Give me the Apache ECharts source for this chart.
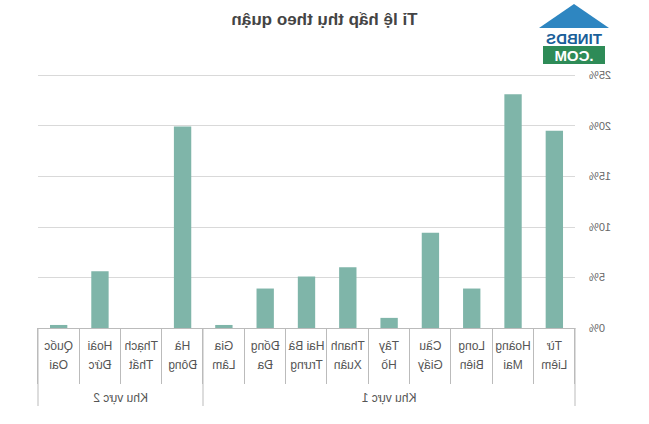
<!DOCTYPE html>
<html><head><meta charset="utf-8">
<script src="https://cdn.jsdelivr.net/npm/echarts@6/dist/echarts.min.js"></script>
<style>html,body{margin:0;padding:0;background:#fff}#c{width:649px;height:424px;transform:scaleX(-1)}</style>
</head><body><div id="c"></div>
<script>
const categories=["Từ\nLiêm","Hoàng\nMai","Long\nBiên","Cầu\nGiấy","Tây\nHồ","Thanh\nXuân","Hai Bà\nTrưng","Đống\nĐa","Gia\nLâm","Hà\nĐông","Thạch\nThất","Hoài\nĐức","Quốc\nOai"];
const values=[19.5,23.1,3.9,9.4,1.0,6.0,5.1,3.9,0.3,19.9,0,5.6,0.3];
const groups=["Khu vực 1","Khu vực 2"];
const groupSizes=[9,4];
const yTicks=[0,5,10,15,20,25];
const chart=echarts.init(document.getElementById('c'),null,{renderer:'svg'});
chart.setOption({
  animation:false,
  title:{text:'Tỉ lệ hấp thụ theo quận',left:'center',top:6,textStyle:{fontFamily:'Liberation Sans',fontSize:17,fontWeight:'bold',color:'#444'}},
  grid:{left:74,right:38,top:75,bottom:96},
  xAxis:{type:'category',data:categories,
    axisLine:{lineStyle:{color:'#bbb'}},
    axisTick:{show:true,interval:0,length:56,lineStyle:{color:'#bbb'}},
    axisLabel:{interval:0,color:'#555',fontFamily:'Liberation Sans',fontSize:12,lineHeight:19,margin:8}},
  yAxis:{type:'value',min:0,max:25,interval:5,
    axisLine:{show:false},axisTick:{show:false},
    splitLine:{lineStyle:{color:'#d9d9d9'}},
    axisLabel:{formatter:v=>v+'%',color:'#666',fontFamily:'Liberation Sans',fontSize:11,margin:14}},
  series:[{type:'bar',data:values,barWidth:'42%',itemStyle:{color:'#7fb5a9'}}]
});
// group row
const g=[];
let start=0;
const y0=chart.convertToPixel({yAxisIndex:0},0);
const half=(chart.convertToPixel({xAxisIndex:0},1)-chart.convertToPixel({xAxisIndex:0},0))/2;
const edges=[];
groups.forEach((name,i)=>{
  const x1=chart.convertToPixel({xAxisIndex:0},start)-half;
  const x2=chart.convertToPixel({xAxisIndex:0},start+groupSizes[i]-1)+half;
  edges.push(x1,x2);
  g.push({type:'text',x:(x1+x2)/2,y:y0+70,style:{text:name,fill:'#555',font:'12px Liberation Sans',textAlign:'center',textVerticalAlign:'middle'}});
  start+=groupSizes[i];
});
[...new Set(edges.map(Math.round))].forEach(x=>g.push({type:'line',shape:{x1:x,y1:y0,x2:x,y2:y0+78},style:{stroke:'#bbb',lineWidth:1}}));
// logo (mirrored back so it appears at top-right of the mirrored page)
g.push({type:'polygon',shape:{points:[[40,28],[75,4],[110,28]]},style:{fill:'#2e86c1'}});
g.push({type:'text',x:75,y:38,style:{text:'TINBDS',fill:'#1a5f99',font:'bold 15px Liberation Sans',textAlign:'center',textVerticalAlign:'middle'}});
g.push({type:'rect',shape:{x:44,y:46,width:62,height:18},style:{fill:'#2e8b57'}});
g.push({type:'text',x:75,y:55,style:{text:'.COM',fill:'#fff',font:'bold 15px Liberation Sans',textAlign:'center',textVerticalAlign:'middle'}});
chart.setOption({graphic:g});
</script></body></html>
